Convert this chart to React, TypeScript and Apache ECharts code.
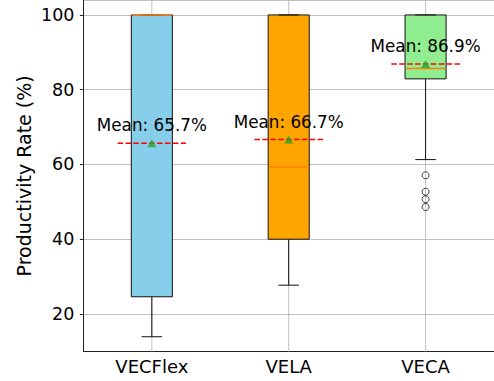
import React, { useEffect, useRef } from "react";
import * as echarts from "echarts";

const categories = ["VECFlex", "VELA", "VECA"];
const whiskerLow = [13.9, 27.7, 61.3];
const q1 = [24.6, 40.0, 82.9];
const medians = [100, 59.3, 85.7];
const q3 = [100, 100, 100];
const whiskerHigh = [100, 100, 100];
const means = [65.7, 66.7, 86.9];
const boxColors = ["#87CEEB", "#FFA500", "#90EE90"];
const outliersVECA = [57.1, 52.7, 50.7, 48.6];

const FONT = "DejaVu Sans";

export default function App() {
  const ref = useRef<HTMLDivElement>(null);
  useEffect(() => {
    document.body.style.margin = "0";
    const chart = echarts.init(ref.current!, null, { renderer: "svg" });
    const boxData = categories.map((_, i) => [
      i,
      whiskerLow[i],
      q1[i],
      medians[i],
      q3[i],
      whiskerHigh[i],
      means[i],
    ]);
    const option: any = {
      animation: false,
      grid: { left: 83.4, right: -4.9, top: 0, bottom: 29.3 },
      xAxis: {
        type: "category",
        data: categories,
        boundaryGap: true,
        axisLine: { lineStyle: { color: "#222", width: 1 } },
        axisTick: { alignWithLabel: true, length: 3.5, lineStyle: { color: "#222" } },
        axisLabel: { color: "#000", fontFamily: FONT, fontSize: 18, margin: 6 },
        splitLine: { show: false },
      },
      yAxis: {
        type: "value",
        min: 9.9,
        max: 104,
        minInterval: 20,
        maxInterval: 20,
        name: "Productivity Rate (%)",
        nameLocation: "middle",
        nameGap: 50,
        nameMoveOverlap: false,
        nameTextStyle: { color: "#000", fontFamily: FONT, fontSize: 19 },
        axisLine: { show: true, lineStyle: { color: "#222", width: 1 } },
        axisTick: { show: true, length: 3.5, lineStyle: { color: "#222" } },
        axisLabel: {
          color: "#000",
          fontFamily: FONT,
          fontSize: 17.5,
          margin: 9,
          showMinLabel: false,
          showMaxLabel: false,
          formatter: (v: number) => (Math.abs(v % 20) < 1e-6 ? String(v) : ""),
        },
        splitLine: { show: true, lineStyle: { color: "#b0b0b0", width: 0.8 } },
      },
      series: [
        {
          type: "custom",
          z: 2,
          encode: { x: 0, y: [1, 2, 3, 4, 5] },
          data: boxData,
          renderItem: (params: any, api: any) => {
            const idx = api.value(0);
            const lowP = api.coord([idx, api.value(1)]);
            const q1P = api.coord([idx, api.value(2)]);
            const medP = api.coord([idx, api.value(3)]);
            const q3P = api.coord([idx, api.value(4)]);
            const highP = api.coord([idx, api.value(5)]);
            const band = api.size([1, 0])[0];
            const bw = band * 0.3;
            const cx = lowP[0];
            const cs = params.coordSys;
            const black = { stroke: "#111", lineWidth: 1 };
            return {
              type: "group",
              children: [
                {
                  type: "line",
                  shape: { x1: cx, y1: cs.y, x2: cx, y2: cs.y + cs.height },
                  style: { stroke: "#b0b0b0", lineWidth: 0.8 },
                },
                {
                  type: "line",
                  shape: { x1: cx, y1: q1P[1], x2: cx, y2: lowP[1] },
                  style: black,
                },
                {
                  type: "line",
                  shape: { x1: cx, y1: q3P[1], x2: cx, y2: highP[1] },
                  style: black,
                },
                {
                  type: "line",
                  shape: { x1: cx - bw / 4, y1: lowP[1], x2: cx + bw / 4, y2: lowP[1] },
                  style: black,
                },
                {
                  type: "rect",
                  shape: { x: cx - bw / 2, y: q3P[1], width: bw, height: q1P[1] - q3P[1] },
                  style: { fill: boxColors[idx], stroke: "#111", lineWidth: 1 },
                },
                {
                  type: "line",
                  shape: { x1: cx - bw / 4, y1: highP[1], x2: cx + bw / 4, y2: highP[1] },
                  style: black,
                },
                {
                  type: "line",
                  shape: { x1: cx - bw / 2 + 0.5, y1: medP[1], x2: cx + bw / 2 - 0.5, y2: medP[1] },
                  style: { stroke: "#ff7f0e", lineWidth: 1.5 },
                },
              ],
            };
          },
        },
        {
          type: "custom",
          z: 3,
          encode: { x: 0, y: 6 },
          data: boxData,
          renderItem: (params: any, api: any) => {
            const idx = api.value(0);
            const m = api.value(6);
            const mP = api.coord([idx, m]);
            const tP = api.coord([idx, m + 2.5]);
            const band = api.size([1, 0])[0];
            const cx = mP[0];
            return {
              type: "group",
              children: [
                {
                  type: "line",
                  shape: { x1: cx - band * 0.25, y1: mP[1], x2: cx + band * 0.25, y2: mP[1] },
                  style: { stroke: "#ff0000", lineWidth: 1.5, lineDash: [5.5, 2.4] },
                },
                {
                  type: "text",
                  x: cx,
                  y: tP[1],
                  style: {
                    text: `Mean: ${m.toFixed(1)}%`,
                    fill: "#000",
                    font: `16.8px "${FONT}"`,
                    align: "center",
                    verticalAlign: "bottom",
                  },
                },
              ],
            };
          },
        },
        {
          type: "scatter",
          z: 4,
          symbol: "triangle",
          symbolSize: [9, 8],
          itemStyle: { color: "#2ca02c" },
          data: means.map((m, i) => [i, m]),
        },
        {
          type: "scatter",
          z: 4,
          symbol: "circle",
          symbolSize: 7,
          itemStyle: { color: "rgba(0,0,0,0)", borderColor: "#111", borderWidth: 1 },
          data: outliersVECA.map((v) => [2, v]),
        },
      ],
    };
    chart.setOption(option);
    return () => chart.dispose();
  }, []);
  return <div ref={ref} style={{ width: 494, height: 381 }} />;
}
